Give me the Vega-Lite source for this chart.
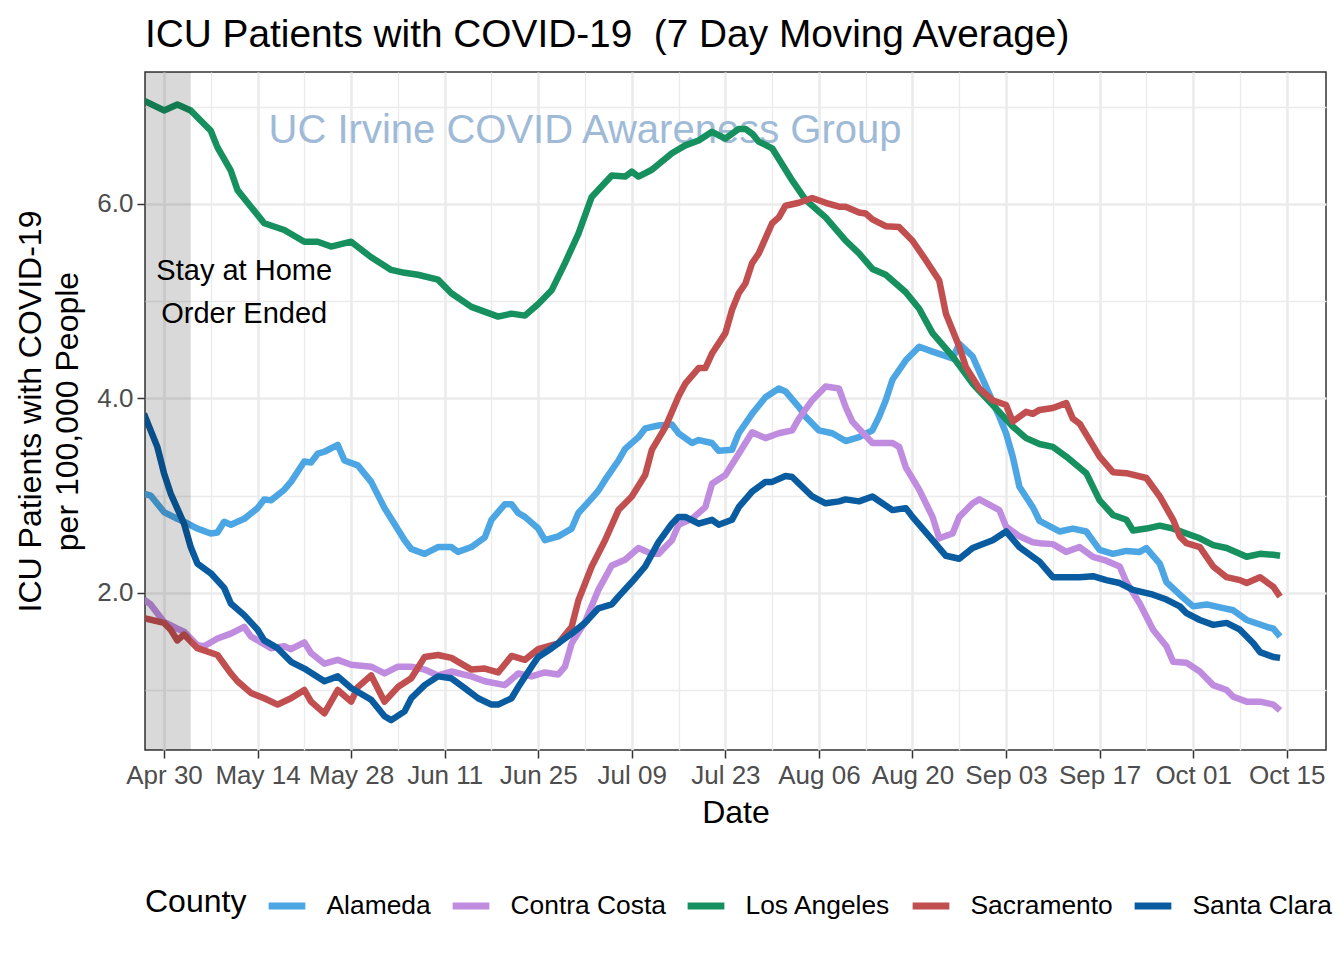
{
  "$schema": "https://vega.github.io/schema/vega-lite/v6.json",
  "width": 1181,
  "height": 678,
  "autosize": {"type": "none"},
  "padding": {"left": 145, "top": 72, "right": 18, "bottom": 210},
  "background": "white",
  "title": {"text": "ICU Patients with COVID-19\u00a0 (7 Day Moving Average)", "anchor": "start", "frame": "group", "fontSize": 38.8, "fontWeight": "normal", "font": "Liberation Sans", "color": "black", "offset": 17},
  "config": {
    "font": "Liberation Sans",
    "view": {"stroke": "#333333", "strokeWidth": 1.5}
  },
  "datasets": {
    "icu": [
      {"county":"Alameda","date":"2020-04-27","value":3.02},{"county":"Alameda","date":"2020-04-28","value":3.00},{"county":"Alameda","date":"2020-04-30","value":2.83},{"county":"Alameda","date":"2020-05-02","value":2.76},{"county":"Alameda","date":"2020-05-03","value":2.73},{"county":"Alameda","date":"2020-05-05","value":2.66},{"county":"Alameda","date":"2020-05-07","value":2.61},{"county":"Alameda","date":"2020-05-08","value":2.62},{"county":"Alameda","date":"2020-05-09","value":2.73},{"county":"Alameda","date":"2020-05-10","value":2.70},{"county":"Alameda","date":"2020-05-12","value":2.76},{"county":"Alameda","date":"2020-05-14","value":2.87},{"county":"Alameda","date":"2020-05-15","value":2.96},{"county":"Alameda","date":"2020-05-16","value":2.95},{"county":"Alameda","date":"2020-05-18","value":3.06},{"county":"Alameda","date":"2020-05-19","value":3.14},{"county":"Alameda","date":"2020-05-21","value":3.35},{"county":"Alameda","date":"2020-05-22","value":3.34},{"county":"Alameda","date":"2020-05-23","value":3.43},{"county":"Alameda","date":"2020-05-24","value":3.45},{"county":"Alameda","date":"2020-05-26","value":3.52},{"county":"Alameda","date":"2020-05-27","value":3.36},{"county":"Alameda","date":"2020-05-29","value":3.31},{"county":"Alameda","date":"2020-05-31","value":3.14},{"county":"Alameda","date":"2020-06-02","value":2.87},{"county":"Alameda","date":"2020-06-03","value":2.76},{"county":"Alameda","date":"2020-06-05","value":2.54},{"county":"Alameda","date":"2020-06-06","value":2.45},{"county":"Alameda","date":"2020-06-08","value":2.40},{"county":"Alameda","date":"2020-06-10","value":2.47},{"county":"Alameda","date":"2020-06-12","value":2.47},{"county":"Alameda","date":"2020-06-13","value":2.42},{"county":"Alameda","date":"2020-06-15","value":2.47},{"county":"Alameda","date":"2020-06-17","value":2.57},{"county":"Alameda","date":"2020-06-18","value":2.75},{"county":"Alameda","date":"2020-06-20","value":2.91},{"county":"Alameda","date":"2020-06-21","value":2.91},{"county":"Alameda","date":"2020-06-22","value":2.82},{"county":"Alameda","date":"2020-06-23","value":2.78},{"county":"Alameda","date":"2020-06-25","value":2.66},{"county":"Alameda","date":"2020-06-26","value":2.54},{"county":"Alameda","date":"2020-06-28","value":2.58},{"county":"Alameda","date":"2020-06-30","value":2.66},{"county":"Alameda","date":"2020-07-01","value":2.82},{"county":"Alameda","date":"2020-07-03","value":2.97},{"county":"Alameda","date":"2020-07-04","value":3.05},{"county":"Alameda","date":"2020-07-05","value":3.16},{"county":"Alameda","date":"2020-07-07","value":3.36},{"county":"Alameda","date":"2020-07-08","value":3.48},{"county":"Alameda","date":"2020-07-10","value":3.60},{"county":"Alameda","date":"2020-07-11","value":3.69},{"county":"Alameda","date":"2020-07-13","value":3.72},{"county":"Alameda","date":"2020-07-15","value":3.73},{"county":"Alameda","date":"2020-07-16","value":3.64},{"county":"Alameda","date":"2020-07-18","value":3.54},{"county":"Alameda","date":"2020-07-19","value":3.57},{"county":"Alameda","date":"2020-07-21","value":3.54},{"county":"Alameda","date":"2020-07-22","value":3.46},{"county":"Alameda","date":"2020-07-24","value":3.47},{"county":"Alameda","date":"2020-07-25","value":3.64},{"county":"Alameda","date":"2020-07-27","value":3.84},{"county":"Alameda","date":"2020-07-29","value":4.01},{"county":"Alameda","date":"2020-07-31","value":4.10},{"county":"Alameda","date":"2020-08-01","value":4.07},{"county":"Alameda","date":"2020-08-03","value":3.91},{"county":"Alameda","date":"2020-08-04","value":3.81},{"county":"Alameda","date":"2020-08-06","value":3.67},{"county":"Alameda","date":"2020-08-08","value":3.64},{"county":"Alameda","date":"2020-08-10","value":3.56},{"county":"Alameda","date":"2020-08-12","value":3.60},{"county":"Alameda","date":"2020-08-14","value":3.67},{"county":"Alameda","date":"2020-08-15","value":3.81},{"county":"Alameda","date":"2020-08-16","value":3.98},{"county":"Alameda","date":"2020-08-17","value":4.19},{"county":"Alameda","date":"2020-08-19","value":4.39},{"county":"Alameda","date":"2020-08-21","value":4.53},{"county":"Alameda","date":"2020-08-23","value":4.48},{"county":"Alameda","date":"2020-08-26","value":4.41},{"county":"Alameda","date":"2020-08-27","value":4.56},{"county":"Alameda","date":"2020-08-29","value":4.43},{"county":"Alameda","date":"2020-08-31","value":4.12},{"county":"Alameda","date":"2020-09-02","value":3.81},{"county":"Alameda","date":"2020-09-03","value":3.64},{"county":"Alameda","date":"2020-09-04","value":3.40},{"county":"Alameda","date":"2020-09-05","value":3.09},{"county":"Alameda","date":"2020-09-07","value":2.88},{"county":"Alameda","date":"2020-09-08","value":2.74},{"county":"Alameda","date":"2020-09-11","value":2.63},{"county":"Alameda","date":"2020-09-13","value":2.66},{"county":"Alameda","date":"2020-09-15","value":2.63},{"county":"Alameda","date":"2020-09-17","value":2.44},{"county":"Alameda","date":"2020-09-19","value":2.40},{"county":"Alameda","date":"2020-09-21","value":2.43},{"county":"Alameda","date":"2020-09-23","value":2.42},{"county":"Alameda","date":"2020-09-24","value":2.46},{"county":"Alameda","date":"2020-09-26","value":2.30},{"county":"Alameda","date":"2020-09-27","value":2.11},{"county":"Alameda","date":"2020-09-29","value":1.98},{"county":"Alameda","date":"2020-10-01","value":1.86},{"county":"Alameda","date":"2020-10-03","value":1.88},{"county":"Alameda","date":"2020-10-05","value":1.85},{"county":"Alameda","date":"2020-10-07","value":1.82},{"county":"Alameda","date":"2020-10-09","value":1.72},{"county":"Alameda","date":"2020-10-12","value":1.65},{"county":"Alameda","date":"2020-10-13","value":1.63},{"county":"Alameda","date":"2020-10-14","value":1.55},
      {"county":"Contra Costa","date":"2020-04-27","value":1.93},{"county":"Contra Costa","date":"2020-04-28","value":1.88},{"county":"Contra Costa","date":"2020-04-30","value":1.70},{"county":"Contra Costa","date":"2020-05-02","value":1.63},{"county":"Contra Costa","date":"2020-05-03","value":1.60},{"county":"Contra Costa","date":"2020-05-05","value":1.46},{"county":"Contra Costa","date":"2020-05-06","value":1.45},{"county":"Contra Costa","date":"2020-05-08","value":1.53},{"county":"Contra Costa","date":"2020-05-10","value":1.58},{"county":"Contra Costa","date":"2020-05-12","value":1.65},{"county":"Contra Costa","date":"2020-05-13","value":1.55},{"county":"Contra Costa","date":"2020-05-16","value":1.43},{"county":"Contra Costa","date":"2020-05-18","value":1.45},{"county":"Contra Costa","date":"2020-05-19","value":1.42},{"county":"Contra Costa","date":"2020-05-21","value":1.49},{"county":"Contra Costa","date":"2020-05-22","value":1.38},{"county":"Contra Costa","date":"2020-05-24","value":1.27},{"county":"Contra Costa","date":"2020-05-26","value":1.31},{"county":"Contra Costa","date":"2020-05-28","value":1.26},{"county":"Contra Costa","date":"2020-05-31","value":1.24},{"county":"Contra Costa","date":"2020-06-02","value":1.17},{"county":"Contra Costa","date":"2020-06-04","value":1.24},{"county":"Contra Costa","date":"2020-06-06","value":1.24},{"county":"Contra Costa","date":"2020-06-08","value":1.21},{"county":"Contra Costa","date":"2020-06-10","value":1.15},{"county":"Contra Costa","date":"2020-06-12","value":1.19},{"county":"Contra Costa","date":"2020-06-15","value":1.14},{"county":"Contra Costa","date":"2020-06-17","value":1.09},{"county":"Contra Costa","date":"2020-06-20","value":1.05},{"county":"Contra Costa","date":"2020-06-22","value":1.17},{"county":"Contra Costa","date":"2020-06-24","value":1.14},{"county":"Contra Costa","date":"2020-06-26","value":1.18},{"county":"Contra Costa","date":"2020-06-28","value":1.16},{"county":"Contra Costa","date":"2020-06-29","value":1.24},{"county":"Contra Costa","date":"2020-06-30","value":1.48},{"county":"Contra Costa","date":"2020-07-02","value":1.70},{"county":"Contra Costa","date":"2020-07-04","value":2.03},{"county":"Contra Costa","date":"2020-07-06","value":2.28},{"county":"Contra Costa","date":"2020-07-08","value":2.34},{"county":"Contra Costa","date":"2020-07-10","value":2.46},{"county":"Contra Costa","date":"2020-07-12","value":2.40},{"county":"Contra Costa","date":"2020-07-13","value":2.40},{"county":"Contra Costa","date":"2020-07-15","value":2.54},{"county":"Contra Costa","date":"2020-07-16","value":2.70},{"county":"Contra Costa","date":"2020-07-18","value":2.76},{"county":"Contra Costa","date":"2020-07-20","value":2.88},{"county":"Contra Costa","date":"2020-07-21","value":3.12},{"county":"Contra Costa","date":"2020-07-23","value":3.21},{"county":"Contra Costa","date":"2020-07-25","value":3.43},{"county":"Contra Costa","date":"2020-07-27","value":3.65},{"county":"Contra Costa","date":"2020-07-29","value":3.59},{"county":"Contra Costa","date":"2020-07-31","value":3.64},{"county":"Contra Costa","date":"2020-08-02","value":3.67},{"county":"Contra Costa","date":"2020-08-03","value":3.79},{"county":"Contra Costa","date":"2020-08-05","value":3.98},{"county":"Contra Costa","date":"2020-08-07","value":4.12},{"county":"Contra Costa","date":"2020-08-09","value":4.10},{"county":"Contra Costa","date":"2020-08-10","value":3.91},{"county":"Contra Costa","date":"2020-08-11","value":3.76},{"county":"Contra Costa","date":"2020-08-14","value":3.54},{"county":"Contra Costa","date":"2020-08-17","value":3.54},{"county":"Contra Costa","date":"2020-08-18","value":3.50},{"county":"Contra Costa","date":"2020-08-19","value":3.29},{"county":"Contra Costa","date":"2020-08-21","value":3.06},{"county":"Contra Costa","date":"2020-08-23","value":2.78},{"county":"Contra Costa","date":"2020-08-24","value":2.56},{"county":"Contra Costa","date":"2020-08-26","value":2.61},{"county":"Contra Costa","date":"2020-08-27","value":2.78},{"county":"Contra Costa","date":"2020-08-29","value":2.92},{"county":"Contra Costa","date":"2020-08-30","value":2.96},{"county":"Contra Costa","date":"2020-09-02","value":2.85},{"county":"Contra Costa","date":"2020-09-03","value":2.68},{"county":"Contra Costa","date":"2020-09-05","value":2.58},{"county":"Contra Costa","date":"2020-09-07","value":2.52},{"county":"Contra Costa","date":"2020-09-08","value":2.51},{"county":"Contra Costa","date":"2020-09-10","value":2.50},{"county":"Contra Costa","date":"2020-09-12","value":2.42},{"county":"Contra Costa","date":"2020-09-14","value":2.47},{"county":"Contra Costa","date":"2020-09-16","value":2.37},{"county":"Contra Costa","date":"2020-09-18","value":2.33},{"county":"Contra Costa","date":"2020-09-20","value":2.27},{"county":"Contra Costa","date":"2020-09-21","value":2.11},{"county":"Contra Costa","date":"2020-09-23","value":1.89},{"county":"Contra Costa","date":"2020-09-25","value":1.62},{"county":"Contra Costa","date":"2020-09-27","value":1.45},{"county":"Contra Costa","date":"2020-09-28","value":1.29},{"county":"Contra Costa","date":"2020-09-30","value":1.28},{"county":"Contra Costa","date":"2020-10-02","value":1.19},{"county":"Contra Costa","date":"2020-10-04","value":1.05},{"county":"Contra Costa","date":"2020-10-06","value":1.00},{"county":"Contra Costa","date":"2020-10-07","value":0.93},{"county":"Contra Costa","date":"2020-10-09","value":0.88},{"county":"Contra Costa","date":"2020-10-11","value":0.88},{"county":"Contra Costa","date":"2020-10-13","value":0.85},{"county":"Contra Costa","date":"2020-10-14","value":0.79},
      {"county":"Los Angeles","date":"2020-04-27","value":7.06},{"county":"Los Angeles","date":"2020-04-30","value":6.96},{"county":"Los Angeles","date":"2020-05-02","value":7.02},{"county":"Los Angeles","date":"2020-05-04","value":6.96},{"county":"Los Angeles","date":"2020-05-07","value":6.75},{"county":"Los Angeles","date":"2020-05-08","value":6.58},{"county":"Los Angeles","date":"2020-05-10","value":6.34},{"county":"Los Angeles","date":"2020-05-11","value":6.14},{"county":"Los Angeles","date":"2020-05-13","value":5.97},{"county":"Los Angeles","date":"2020-05-15","value":5.80},{"county":"Los Angeles","date":"2020-05-18","value":5.73},{"county":"Los Angeles","date":"2020-05-21","value":5.61},{"county":"Los Angeles","date":"2020-05-23","value":5.61},{"county":"Los Angeles","date":"2020-05-25","value":5.56},{"county":"Los Angeles","date":"2020-05-28","value":5.61},{"county":"Los Angeles","date":"2020-05-31","value":5.45},{"county":"Los Angeles","date":"2020-06-03","value":5.32},{"county":"Los Angeles","date":"2020-06-05","value":5.29},{"county":"Los Angeles","date":"2020-06-07","value":5.27},{"county":"Los Angeles","date":"2020-06-10","value":5.22},{"county":"Los Angeles","date":"2020-06-12","value":5.08},{"county":"Los Angeles","date":"2020-06-15","value":4.94},{"county":"Los Angeles","date":"2020-06-19","value":4.84},{"county":"Los Angeles","date":"2020-06-21","value":4.87},{"county":"Los Angeles","date":"2020-06-23","value":4.85},{"county":"Los Angeles","date":"2020-06-25","value":4.97},{"county":"Los Angeles","date":"2020-06-27","value":5.11},{"county":"Los Angeles","date":"2020-06-29","value":5.39},{"county":"Los Angeles","date":"2020-07-01","value":5.69},{"county":"Los Angeles","date":"2020-07-03","value":6.07},{"county":"Los Angeles","date":"2020-07-06","value":6.29},{"county":"Los Angeles","date":"2020-07-08","value":6.28},{"county":"Los Angeles","date":"2020-07-09","value":6.33},{"county":"Los Angeles","date":"2020-07-10","value":6.28},{"county":"Los Angeles","date":"2020-07-12","value":6.35},{"county":"Los Angeles","date":"2020-07-15","value":6.52},{"county":"Los Angeles","date":"2020-07-17","value":6.60},{"county":"Los Angeles","date":"2020-07-19","value":6.65},{"county":"Los Angeles","date":"2020-07-21","value":6.74},{"county":"Los Angeles","date":"2020-07-23","value":6.67},{"county":"Los Angeles","date":"2020-07-25","value":6.77},{"county":"Los Angeles","date":"2020-07-26","value":6.77},{"county":"Los Angeles","date":"2020-07-27","value":6.72},{"county":"Los Angeles","date":"2020-07-28","value":6.64},{"county":"Los Angeles","date":"2020-07-30","value":6.57},{"county":"Los Angeles","date":"2020-08-02","value":6.24},{"county":"Los Angeles","date":"2020-08-04","value":6.04},{"county":"Los Angeles","date":"2020-08-07","value":5.86},{"county":"Los Angeles","date":"2020-08-10","value":5.62},{"county":"Los Angeles","date":"2020-08-12","value":5.49},{"county":"Los Angeles","date":"2020-08-14","value":5.33},{"county":"Los Angeles","date":"2020-08-16","value":5.27},{"county":"Los Angeles","date":"2020-08-19","value":5.09},{"county":"Los Angeles","date":"2020-08-21","value":4.92},{"county":"Los Angeles","date":"2020-08-23","value":4.67},{"county":"Los Angeles","date":"2020-08-26","value":4.43},{"county":"Los Angeles","date":"2020-08-29","value":4.15},{"county":"Los Angeles","date":"2020-09-01","value":3.93},{"county":"Los Angeles","date":"2020-09-04","value":3.71},{"county":"Los Angeles","date":"2020-09-06","value":3.59},{"county":"Los Angeles","date":"2020-09-08","value":3.53},{"county":"Los Angeles","date":"2020-09-10","value":3.50},{"county":"Los Angeles","date":"2020-09-12","value":3.40},{"county":"Los Angeles","date":"2020-09-15","value":3.23},{"county":"Los Angeles","date":"2020-09-17","value":2.95},{"county":"Los Angeles","date":"2020-09-19","value":2.80},{"county":"Los Angeles","date":"2020-09-21","value":2.75},{"county":"Los Angeles","date":"2020-09-22","value":2.64},{"county":"Los Angeles","date":"2020-09-24","value":2.66},{"county":"Los Angeles","date":"2020-09-26","value":2.69},{"county":"Los Angeles","date":"2020-09-28","value":2.66},{"county":"Los Angeles","date":"2020-09-30","value":2.61},{"county":"Los Angeles","date":"2020-10-02","value":2.56},{"county":"Los Angeles","date":"2020-10-04","value":2.49},{"county":"Los Angeles","date":"2020-10-06","value":2.46},{"county":"Los Angeles","date":"2020-10-09","value":2.37},{"county":"Los Angeles","date":"2020-10-11","value":2.40},{"county":"Los Angeles","date":"2020-10-13","value":2.39},{"county":"Los Angeles","date":"2020-10-14","value":2.38},
      {"county":"Sacramento","date":"2020-04-27","value":1.74},{"county":"Sacramento","date":"2020-04-30","value":1.69},{"county":"Sacramento","date":"2020-05-01","value":1.62},{"county":"Sacramento","date":"2020-05-02","value":1.51},{"county":"Sacramento","date":"2020-05-03","value":1.57},{"county":"Sacramento","date":"2020-05-05","value":1.43},{"county":"Sacramento","date":"2020-05-08","value":1.36},{"county":"Sacramento","date":"2020-05-10","value":1.17},{"county":"Sacramento","date":"2020-05-11","value":1.09},{"county":"Sacramento","date":"2020-05-13","value":0.97},{"county":"Sacramento","date":"2020-05-15","value":0.915},{"county":"Sacramento","date":"2020-05-17","value":0.85},{"county":"Sacramento","date":"2020-05-19","value":0.915},{"county":"Sacramento","date":"2020-05-21","value":1.00},{"county":"Sacramento","date":"2020-05-22","value":0.88},{"county":"Sacramento","date":"2020-05-24","value":0.76},{"county":"Sacramento","date":"2020-05-26","value":1.00},{"county":"Sacramento","date":"2020-05-28","value":0.88},{"county":"Sacramento","date":"2020-05-29","value":1.03},{"county":"Sacramento","date":"2020-05-31","value":1.15},{"county":"Sacramento","date":"2020-06-02","value":0.88},{"county":"Sacramento","date":"2020-06-04","value":1.03},{"county":"Sacramento","date":"2020-06-06","value":1.12},{"county":"Sacramento","date":"2020-06-08","value":1.34},{"county":"Sacramento","date":"2020-06-10","value":1.36},{"county":"Sacramento","date":"2020-06-12","value":1.33},{"county":"Sacramento","date":"2020-06-15","value":1.21},{"county":"Sacramento","date":"2020-06-17","value":1.22},{"county":"Sacramento","date":"2020-06-19","value":1.18},{"county":"Sacramento","date":"2020-06-21","value":1.35},{"county":"Sacramento","date":"2020-06-23","value":1.31},{"county":"Sacramento","date":"2020-06-25","value":1.42},{"county":"Sacramento","date":"2020-06-28","value":1.48},{"county":"Sacramento","date":"2020-06-30","value":1.65},{"county":"Sacramento","date":"2020-07-01","value":1.92},{"county":"Sacramento","date":"2020-07-03","value":2.27},{"county":"Sacramento","date":"2020-07-05","value":2.54},{"county":"Sacramento","date":"2020-07-07","value":2.85},{"county":"Sacramento","date":"2020-07-09","value":2.99},{"county":"Sacramento","date":"2020-07-11","value":3.21},{"county":"Sacramento","date":"2020-07-12","value":3.47},{"county":"Sacramento","date":"2020-07-14","value":3.70},{"county":"Sacramento","date":"2020-07-16","value":4.02},{"county":"Sacramento","date":"2020-07-17","value":4.15},{"county":"Sacramento","date":"2020-07-19","value":4.31},{"county":"Sacramento","date":"2020-07-20","value":4.31},{"county":"Sacramento","date":"2020-07-21","value":4.46},{"county":"Sacramento","date":"2020-07-23","value":4.67},{"county":"Sacramento","date":"2020-07-24","value":4.91},{"county":"Sacramento","date":"2020-07-25","value":5.08},{"county":"Sacramento","date":"2020-07-26","value":5.18},{"county":"Sacramento","date":"2020-07-27","value":5.39},{"county":"Sacramento","date":"2020-07-28","value":5.49},{"county":"Sacramento","date":"2020-07-30","value":5.80},{"county":"Sacramento","date":"2020-07-31","value":5.86},{"county":"Sacramento","date":"2020-08-01","value":5.98},{"county":"Sacramento","date":"2020-08-03","value":6.01},{"county":"Sacramento","date":"2020-08-05","value":6.06},{"county":"Sacramento","date":"2020-08-07","value":6.01},{"county":"Sacramento","date":"2020-08-09","value":5.97},{"county":"Sacramento","date":"2020-08-10","value":5.97},{"county":"Sacramento","date":"2020-08-12","value":5.91},{"county":"Sacramento","date":"2020-08-13","value":5.90},{"county":"Sacramento","date":"2020-08-14","value":5.84},{"county":"Sacramento","date":"2020-08-16","value":5.77},{"county":"Sacramento","date":"2020-08-18","value":5.76},{"county":"Sacramento","date":"2020-08-20","value":5.62},{"county":"Sacramento","date":"2020-08-22","value":5.42},{"county":"Sacramento","date":"2020-08-24","value":5.21},{"county":"Sacramento","date":"2020-08-25","value":4.87},{"county":"Sacramento","date":"2020-08-27","value":4.53},{"county":"Sacramento","date":"2020-08-28","value":4.32},{"county":"Sacramento","date":"2020-08-30","value":4.10},{"county":"Sacramento","date":"2020-09-01","value":3.98},{"county":"Sacramento","date":"2020-09-03","value":3.93},{"county":"Sacramento","date":"2020-09-04","value":3.76},{"county":"Sacramento","date":"2020-09-06","value":3.86},{"county":"Sacramento","date":"2020-09-07","value":3.84},{"county":"Sacramento","date":"2020-09-08","value":3.88},{"county":"Sacramento","date":"2020-09-10","value":3.90},{"county":"Sacramento","date":"2020-09-12","value":3.95},{"county":"Sacramento","date":"2020-09-13","value":3.79},{"county":"Sacramento","date":"2020-09-14","value":3.74},{"county":"Sacramento","date":"2020-09-17","value":3.40},{"county":"Sacramento","date":"2020-09-19","value":3.24},{"county":"Sacramento","date":"2020-09-21","value":3.23},{"county":"Sacramento","date":"2020-09-24","value":3.18},{"county":"Sacramento","date":"2020-09-26","value":2.99},{"county":"Sacramento","date":"2020-09-27","value":2.87},{"county":"Sacramento","date":"2020-09-28","value":2.75},{"county":"Sacramento","date":"2020-09-29","value":2.58},{"county":"Sacramento","date":"2020-09-30","value":2.51},{"county":"Sacramento","date":"2020-10-02","value":2.47},{"county":"Sacramento","date":"2020-10-04","value":2.27},{"county":"Sacramento","date":"2020-10-06","value":2.16},{"county":"Sacramento","date":"2020-10-08","value":2.13},{"county":"Sacramento","date":"2020-10-09","value":2.10},{"county":"Sacramento","date":"2020-10-11","value":2.16},{"county":"Sacramento","date":"2020-10-13","value":2.06},{"county":"Sacramento","date":"2020-10-14","value":1.96},
      {"county":"Santa Clara","date":"2020-04-27","value":3.84},{"county":"Santa Clara","date":"2020-04-29","value":3.50},{"county":"Santa Clara","date":"2020-04-30","value":3.23},{"county":"Santa Clara","date":"2020-05-01","value":3.02},{"county":"Santa Clara","date":"2020-05-03","value":2.71},{"county":"Santa Clara","date":"2020-05-04","value":2.47},{"county":"Santa Clara","date":"2020-05-05","value":2.30},{"county":"Santa Clara","date":"2020-05-07","value":2.20},{"county":"Santa Clara","date":"2020-05-09","value":2.05},{"county":"Santa Clara","date":"2020-05-10","value":1.89},{"county":"Santa Clara","date":"2020-05-12","value":1.77},{"county":"Santa Clara","date":"2020-05-14","value":1.62},{"county":"Santa Clara","date":"2020-05-15","value":1.51},{"county":"Santa Clara","date":"2020-05-17","value":1.43},{"county":"Santa Clara","date":"2020-05-19","value":1.29},{"county":"Santa Clara","date":"2020-05-21","value":1.22},{"county":"Santa Clara","date":"2020-05-24","value":1.09},{"county":"Santa Clara","date":"2020-05-26","value":1.14},{"county":"Santa Clara","date":"2020-05-28","value":1.02},{"county":"Santa Clara","date":"2020-05-31","value":0.90},{"county":"Santa Clara","date":"2020-06-02","value":0.73},{"county":"Santa Clara","date":"2020-06-03","value":0.69},{"county":"Santa Clara","date":"2020-06-05","value":0.78},{"county":"Santa Clara","date":"2020-06-06","value":0.915},{"county":"Santa Clara","date":"2020-06-08","value":1.05},{"county":"Santa Clara","date":"2020-06-10","value":1.14},{"county":"Santa Clara","date":"2020-06-12","value":1.12},{"county":"Santa Clara","date":"2020-06-14","value":1.02},{"county":"Santa Clara","date":"2020-06-16","value":0.915},{"county":"Santa Clara","date":"2020-06-18","value":0.85},{"county":"Santa Clara","date":"2020-06-19","value":0.85},{"county":"Santa Clara","date":"2020-06-21","value":0.915},{"county":"Santa Clara","date":"2020-06-22","value":1.03},{"county":"Santa Clara","date":"2020-06-24","value":1.24},{"county":"Santa Clara","date":"2020-06-25","value":1.34},{"county":"Santa Clara","date":"2020-06-27","value":1.43},{"county":"Santa Clara","date":"2020-06-29","value":1.53},{"county":"Santa Clara","date":"2020-06-30","value":1.58},{"county":"Santa Clara","date":"2020-07-02","value":1.69},{"county":"Santa Clara","date":"2020-07-04","value":1.84},{"county":"Santa Clara","date":"2020-07-06","value":1.88},{"county":"Santa Clara","date":"2020-07-07","value":1.96},{"county":"Santa Clara","date":"2020-07-09","value":2.11},{"county":"Santa Clara","date":"2020-07-11","value":2.27},{"county":"Santa Clara","date":"2020-07-13","value":2.52},{"county":"Santa Clara","date":"2020-07-15","value":2.71},{"county":"Santa Clara","date":"2020-07-16","value":2.78},{"county":"Santa Clara","date":"2020-07-17","value":2.78},{"county":"Santa Clara","date":"2020-07-19","value":2.71},{"county":"Santa Clara","date":"2020-07-21","value":2.75},{"county":"Santa Clara","date":"2020-07-22","value":2.70},{"county":"Santa Clara","date":"2020-07-24","value":2.75},{"county":"Santa Clara","date":"2020-07-25","value":2.88},{"county":"Santa Clara","date":"2020-07-27","value":3.04},{"county":"Santa Clara","date":"2020-07-29","value":3.14},{"county":"Santa Clara","date":"2020-07-30","value":3.14},{"county":"Santa Clara","date":"2020-08-01","value":3.20},{"county":"Santa Clara","date":"2020-08-02","value":3.19},{"county":"Santa Clara","date":"2020-08-05","value":2.99},{"county":"Santa Clara","date":"2020-08-07","value":2.92},{"county":"Santa Clara","date":"2020-08-09","value":2.94},{"county":"Santa Clara","date":"2020-08-10","value":2.96},{"county":"Santa Clara","date":"2020-08-12","value":2.94},{"county":"Santa Clara","date":"2020-08-14","value":2.99},{"county":"Santa Clara","date":"2020-08-17","value":2.85},{"county":"Santa Clara","date":"2020-08-19","value":2.87},{"county":"Santa Clara","date":"2020-08-20","value":2.78},{"county":"Santa Clara","date":"2020-08-23","value":2.54},{"county":"Santa Clara","date":"2020-08-25","value":2.38},{"county":"Santa Clara","date":"2020-08-27","value":2.35},{"county":"Santa Clara","date":"2020-08-29","value":2.46},{"county":"Santa Clara","date":"2020-09-01","value":2.54},{"county":"Santa Clara","date":"2020-09-03","value":2.63},{"county":"Santa Clara","date":"2020-09-05","value":2.47},{"county":"Santa Clara","date":"2020-09-07","value":2.37},{"county":"Santa Clara","date":"2020-09-08","value":2.32},{"county":"Santa Clara","date":"2020-09-10","value":2.16},{"county":"Santa Clara","date":"2020-09-12","value":2.16},{"county":"Santa Clara","date":"2020-09-14","value":2.16},{"county":"Santa Clara","date":"2020-09-16","value":2.17},{"county":"Santa Clara","date":"2020-09-18","value":2.13},{"county":"Santa Clara","date":"2020-09-20","value":2.10},{"county":"Santa Clara","date":"2020-09-22","value":2.03},{"county":"Santa Clara","date":"2020-09-25","value":1.98},{"county":"Santa Clara","date":"2020-09-27","value":1.93},{"county":"Santa Clara","date":"2020-09-29","value":1.86},{"county":"Santa Clara","date":"2020-09-30","value":1.79},{"county":"Santa Clara","date":"2020-10-02","value":1.72},{"county":"Santa Clara","date":"2020-10-04","value":1.67},{"county":"Santa Clara","date":"2020-10-06","value":1.69},{"county":"Santa Clara","date":"2020-10-08","value":1.62},{"county":"Santa Clara","date":"2020-10-10","value":1.48},{"county":"Santa Clara","date":"2020-10-11","value":1.39},{"county":"Santa Clara","date":"2020-10-13","value":1.34},{"county":"Santa Clara","date":"2020-10-14","value":1.33}
    ],
    "watermark": [{"label": "UC Irvine COVID Awareness Group", "date": "2020-07-02", "value": 6.63}],
    "shade": [{"start": "2020-04-20", "end": "2020-05-04"}],
    "notes": [
      {"label": "Stay at Home", "date": "2020-05-12", "value": 5.216},
      {"label": "Order Ended", "date": "2020-05-12", "value": 4.771}
    ]
  },
  "resolve": {"axis": {"x": "independent", "y": "independent"}},
  "layer": [
    {
      "data": {"name": "watermark"},
      "mark": {"type": "text", "fontSize": 40, "color": "#9FBAD7", "align": "center", "baseline": "alphabetic", "font": "Liberation Sans"},
      "encoding": {
        "x": {"field": "date", "type": "temporal",
          "scale": {"type": "utc", "domain": [{"year": 2020, "month": "apr", "date": 27, "hours": 3, "minutes": 45, "utc": true}, {"year": 2020, "month": "oct", "date": 20, "hours": 21, "utc": true}]},
          "axis": {"orient": "bottom", "values": [
            {"year": 2020, "month": "may", "date": 7, "utc": true}, {"year": 2020, "month": "may", "date": 21, "utc": true},
            {"year": 2020, "month": "jun", "date": 4, "utc": true}, {"year": 2020, "month": "jun", "date": 18, "utc": true},
            {"year": 2020, "month": "jul", "date": 2, "utc": true}, {"year": 2020, "month": "jul", "date": 16, "utc": true},
            {"year": 2020, "month": "jul", "date": 30, "utc": true}, {"year": 2020, "month": "aug", "date": 13, "utc": true},
            {"year": 2020, "month": "aug", "date": 27, "utc": true}, {"year": 2020, "month": "sep", "date": 10, "utc": true},
            {"year": 2020, "month": "sep", "date": 24, "utc": true}, {"year": 2020, "month": "oct", "date": 8, "utc": true}],
            "labels": false, "ticks": false, "domain": false, "grid": true, "gridColor": "#EBEBEB", "gridWidth": 1.3, "title": null}},
        "y": {"field": "value", "type": "quantitative",
          "scale": {"domain": [0.383, 7.355], "nice": false, "zero": false},
          "axis": {"orient": "left", "values": [1, 3, 5, 7], "labels": false, "ticks": false, "domain": false, "grid": true, "gridColor": "#EBEBEB", "gridWidth": 1.3, "title": null}},
        "text": {"field": "label"}
      }
    },
    {
      "data": {"name": "icu"},
      "mark": {"type": "line", "strokeWidth": 6.5, "strokeJoin": "round", "clip": true},
      "encoding": {
        "x": {"field": "date", "type": "temporal",
          "axis": {"orient": "bottom", "values": [
            {"year": 2020, "month": "apr", "date": 30, "utc": true}, {"year": 2020, "month": "may", "date": 14, "utc": true},
            {"year": 2020, "month": "may", "date": 28, "utc": true}, {"year": 2020, "month": "jun", "date": 11, "utc": true},
            {"year": 2020, "month": "jun", "date": 25, "utc": true}, {"year": 2020, "month": "jul", "date": 9, "utc": true},
            {"year": 2020, "month": "jul", "date": 23, "utc": true}, {"year": 2020, "month": "aug", "date": 6, "utc": true},
            {"year": 2020, "month": "aug", "date": 20, "utc": true}, {"year": 2020, "month": "sep", "date": 3, "utc": true},
            {"year": 2020, "month": "sep", "date": 17, "utc": true}, {"year": 2020, "month": "oct", "date": 1, "utc": true},
            {"year": 2020, "month": "oct", "date": 15, "utc": true}],
            "labelExpr": "utcFormat(datum.value, '%b %d')", "labelFontSize": 26, "labelColor": "#4D4D4D", "labelPadding": 4,
            "labelOverlap": false, "labelFlush": false,
            "tickSize": 8, "tickColor": "#333333", "tickWidth": 1.5, "domain": false,
            "grid": true, "gridColor": "#EBEBEB", "gridWidth": 2.6,
            "title": "Date", "titleFontSize": 32, "titleFontWeight": "normal", "titleColor": "black", "titlePadding": 9}},
        "y": {"field": "value", "type": "quantitative",
          "axis": {"orient": "left", "values": [2, 4, 6], "format": ".1f", "labelFontSize": 26, "labelColor": "#4D4D4D", "labelPadding": 4,
            "tickSize": 8, "tickColor": "#333333", "tickWidth": 1.5, "domain": false,
            "grid": true, "gridColor": "#EBEBEB", "gridWidth": 2.6,
            "title": ["ICU Patients with COVID-19", "per 100,000 People"], "titleFontSize": 32, "titleFontWeight": "normal", "titleColor": "black", "titlePadding": 12, "titleLineHeight": 37}},
        "color": {"field": "county", "type": "nominal",
          "scale": {"domain": ["Alameda", "Contra Costa", "Los Angeles", "Sacramento", "Santa Clara"], "range": ["#4CA6E3", "#C08CDF", "#16905E", "#C14F4F", "#0A5CA1"]},
          "legend": {"orient": "none", "legendX": 0, "legendY": 812, "direction": "horizontal", "title": "County",
            "titleOrient": "left", "titleFontSize": 32, "titleFontWeight": "normal", "titleColor": "black", "titlePadding": 18,
            "labelFontSize": 26.4, "labelColor": "black", "symbolType": "stroke", "symbolStrokeWidth": 7, "symbolSize": 1350,
            "labelOffset": 17.5, "columnPadding": 7}}
      }
    },
    {
      "data": {"name": "shade"},
      "mark": {"type": "rect", "color": "black", "opacity": 0.15, "clip": true},
      "encoding": {
        "x": {"field": "start", "type": "temporal", "axis": null},
        "x2": {"field": "end"}
      }
    },
    {
      "data": {"name": "notes"},
      "mark": {"type": "text", "fontSize": 29, "color": "black", "align": "center", "baseline": "alphabetic", "font": "Liberation Sans"},
      "encoding": {
        "x": {"field": "date", "type": "temporal", "axis": null},
        "y": {"field": "value", "type": "quantitative", "axis": null},
        "text": {"field": "label"}
      }
    }
  ]
}
